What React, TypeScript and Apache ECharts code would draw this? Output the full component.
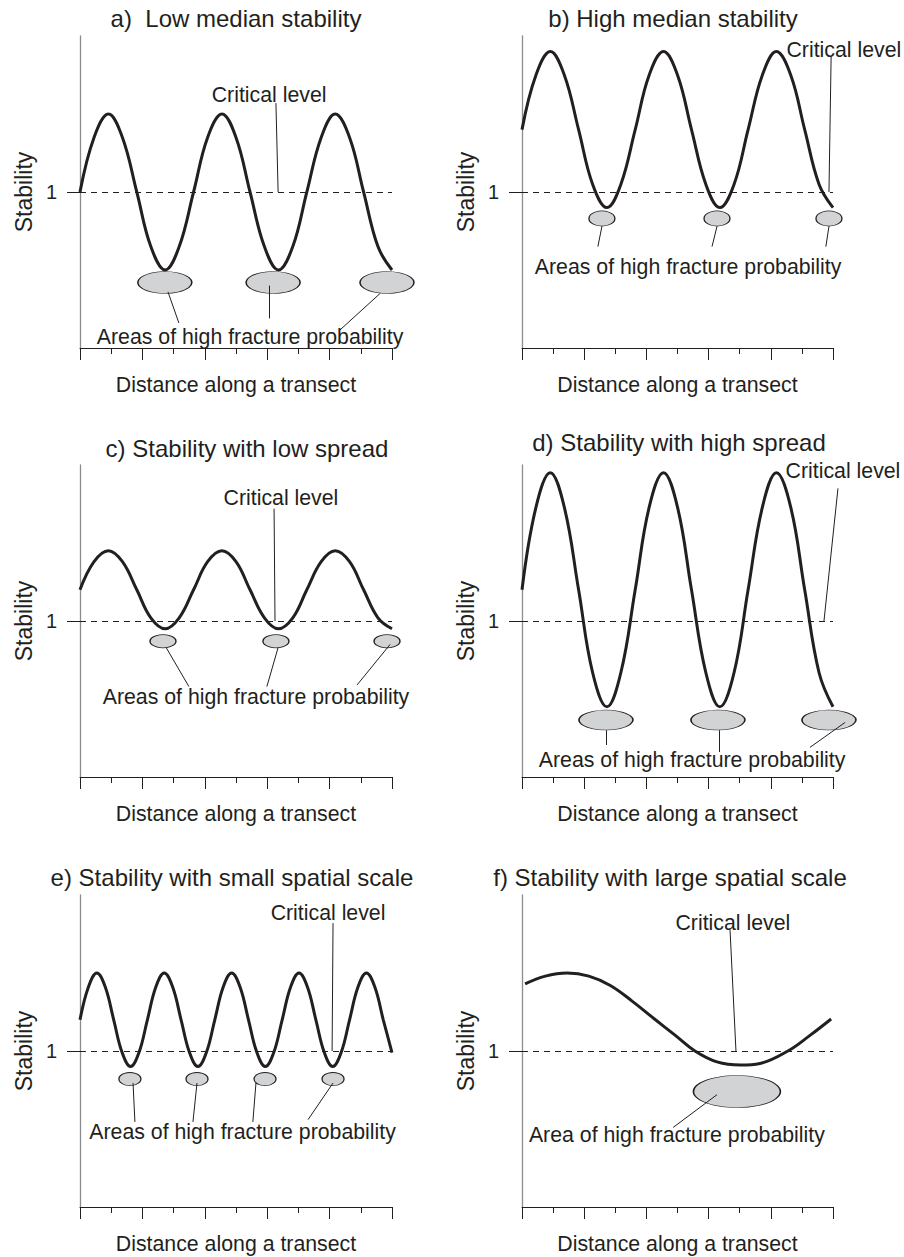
import React, { useEffect, useRef } from "react";
import * as echarts from "echarts";

const FONT = '"Liberation Sans", Arial, Helvetica, sans-serif';
const INK = "#231f20";
const FILL = "#d1d3d4";
const AXIS_GREY = "#8c8c8c";

// ---- texts ----
const panelTitles = [
  "a)  Low median stability",
  "b) High median stability",
  "c) Stability with low spread",
  "d) Stability with high spread",
  "e) Stability with small spatial scale",
  "f) Stability with large spatial scale",
];
const xAxisName = "Distance along a transect";
const yAxisName = "Stability";
const criticalLabel = "Critical level";
const areasLabel = "Areas of high fracture probability";
const areaLabel = "Area of high fracture probability";
const criticalValue = 1;
const yTickLabel = "1";

// ---- curves (distance 0..10, stability) ----
const transectX = [0, 0.45, 0.91, 1.36, 1.82, 2.27, 2.73, 3.18, 3.64, 4.09, 4.55, 5.0, 5.45, 5.91, 6.36, 6.82, 7.27, 7.73, 8.18, 8.64, 9.09, 9.55, 10.0];
const stabilityA = [1.0, 1.35, 1.5, 1.35, 1.0, 0.65, 0.5, 0.65, 1.0, 1.35, 1.5, 1.35, 1.0, 0.65, 0.5, 0.65, 1.0, 1.35, 1.5, 1.35, 1.0, 0.65, 0.5];
const stabilityB = [1.4, 1.75, 1.9, 1.75, 1.4, 1.05, 0.9, 1.05, 1.4, 1.75, 1.9, 1.75, 1.4, 1.05, 0.9, 1.05, 1.4, 1.75, 1.9, 1.75, 1.4, 1.05, 0.9];
const stabilityC = [1.2, 1.38, 1.45, 1.38, 1.2, 1.02, 0.95, 1.02, 1.2, 1.38, 1.45, 1.38, 1.2, 1.02, 0.95, 1.02, 1.2, 1.38, 1.45, 1.38, 1.2, 1.02, 0.95];
const stabilityD = [1.2, 1.73, 1.95, 1.73, 1.2, 0.67, 0.45, 0.67, 1.2, 1.73, 1.95, 1.73, 1.2, 0.67, 0.45, 0.67, 1.2, 1.73, 1.95, 1.73, 1.2, 0.67, 0.45];

const smallScaleX = [0, 0.27, 0.54, 0.81, 1.08, 1.35, 1.62, 1.89, 2.16, 2.43, 2.7, 2.97, 3.24, 3.51, 3.78, 4.05, 4.32, 4.59, 4.86, 5.13, 5.4, 5.67, 5.94, 6.21, 6.48, 6.75, 7.02, 7.29, 7.56, 7.83, 8.1, 8.37, 8.64, 8.91, 9.18, 9.45, 9.72, 10];
const stabilityE = [1.2, 1.41, 1.5, 1.41, 1.2, 0.99, 0.9, 0.99, 1.2, 1.41, 1.5, 1.41, 1.2, 0.99, 0.9, 0.99, 1.2, 1.41, 1.5, 1.41, 1.2, 0.99, 0.9, 0.99, 1.2, 1.41, 1.5, 1.41, 1.2, 0.99, 0.9, 0.99, 1.2, 1.41, 1.5, 1.41, 1.2, 0.99];

const largeScaleX = [0.1, 0.75, 1.45, 2.15, 2.84, 3.54, 4.23, 4.93, 5.56, 6.27, 7.03, 7.65, 8.55, 9.26, 9.94];
const stabilityF = [1.43, 1.48, 1.5, 1.48, 1.42, 1.32, 1.21, 1.1, 1.0, 0.93, 0.91, 0.92, 1.0, 1.1, 1.205];

// ---- areas of high fracture probability (centres) ----
const fractureA = [[2.72, 0.42], [6.19, 0.42], [9.84, 0.42]];
const fractureB = [[2.57, 0.83], [6.27, 0.83], [9.87, 0.83]];
const fractureC = [[2.66, 0.87], [6.28, 0.87], [9.84, 0.87]];
const fractureD = [[2.7, 0.365], [6.3, 0.365], [9.87, 0.365]];
const fractureE = [[1.6, 0.82], [3.75, 0.82], [5.93, 0.82], [8.11, 0.82]];
const fractureF = [[6.91, 0.74]];

// ---- layout / annotation placement (in axis units) ----
const panels = [
  {
    title: panelTitles[0], titlePos: [236, 18], left: 80, top: 36, width: 312,
    x: transectX, y: stabilityA, fracture: fractureA, ellipse: [54, 22],
    critText: [6.06, 1.62], critLeader: [[6.28, 1.57], [6.35, 1.0]],
    areaText: [5.45, 0.07], areaName: areasLabel,
    areaLeaders: [[[2.82, 0.36], [3.17, 0.16]], [[6.06, 0.4], [6.06, 0.19]], [[9.62, 0.35], [8.33, 0.115]]],
  },
  {
    title: panelTitles[1], titlePos: [673, 18], left: 522, top: 36, width: 311,
    x: transectX, y: stabilityB, fracture: fractureB, ellipse: [26, 15],
    critText: [10.35, 1.91], critLeader: [[9.94, 1.87], [9.87, 1.0]],
    areaText: [5.34, 0.52], areaName: areasLabel,
    areaLeaders: [[[2.57, 0.78], [2.44, 0.65]], [[6.27, 0.78], [6.11, 0.65]], [[9.87, 0.78], [9.77, 0.65]]],
  },
  {
    title: panelTitles[2], titlePos: [247, 448], left: 80, top: 465, width: 312,
    x: transectX, y: stabilityC, fracture: fractureC, ellipse: [26, 13],
    critText: [6.44, 1.79], critLeader: [[6.22, 1.72], [6.25, 1.0]],
    areaText: [5.64, 0.51], areaName: areasLabel,
    areaLeaders: [[[2.76, 0.83], [3.49, 0.58]], [[6.35, 0.83], [5.99, 0.58]], [[9.94, 0.85], [8.88, 0.59]]],
  },
  {
    title: panelTitles[3], titlePos: [679, 442], left: 522, top: 465, width: 311,
    x: transectX, y: stabilityD, fracture: fractureD, ellipse: [54, 20],
    critText: [10.32, 1.96], critLeader: [[10.16, 1.85], [9.71, 1.0]],
    areaText: [5.47, 0.11], areaName: areasLabel,
    areaLeaders: [[[2.7, 0.3], [2.7, 0.205]], [[6.33, 0.3], [6.33, 0.16]], [[10.39, 0.35], [9.26, 0.19]]],
  },
  {
    title: panelTitles[4], titlePos: [232, 877], left: 80, top: 895, width: 312,
    x: smallScaleX, y: stabilityE, fracture: fractureE, ellipse: [22, 13],
    critText: [7.95, 1.885], critLeader: [[8.11, 1.82], [8.08, 1.0]],
    areaText: [5.21, 0.48], areaName: areasLabel,
    areaLeaders: [[[1.7, 0.795], [1.76, 0.545]], [[3.75, 0.795], [3.62, 0.545]], [[5.64, 0.795], [5.54, 0.545]], [[8.11, 0.795], [7.31, 0.56]]],
  },
  {
    title: panelTitles[5], titlePos: [670, 877], left: 522, top: 895, width: 311,
    x: largeScaleX, y: stabilityF, fracture: fractureF, ellipse: [87, 32],
    critText: [6.78, 1.82], critLeader: [[6.69, 1.775], [6.88, 1.0]],
    areaText: [4.98, 0.46], areaName: areaLabel,
    areaLeaders: [[[6.27, 0.72], [4.86, 0.51]]],
  },
];

const textStyle = (size: number) => ({ fontFamily: FONT, fontSize: size, color: INK });

function buildOption() {
  const grid = panels.map((p) => ({ left: p.left, top: p.top, width: p.width, height: 312 }));
  const xAxis = panels.map((p, i) => ({
    type: "value",
    gridIndex: i,
    min: 0,
    max: 10,
    interval: 2,
    axisLine: { show: true, onZero: false, lineStyle: { color: INK, width: 1 } },
    axisTick: { show: true, length: 12, lineStyle: { color: INK, width: 1 } },
    minorTick: { show: true, splitNumber: 2, length: 6, lineStyle: { color: INK, width: 1 } },
    axisLabel: { show: false },
    splitLine: { show: false },
    minorSplitLine: { show: false },
    name: xAxisName,
    nameLocation: "middle",
    nameGap: 26,
    nameTextStyle: textStyle(21.3),
  }));
  const yAxis = panels.map((p, i) => ({
    type: "value",
    gridIndex: i,
    min: 0,
    max: 2,
    interval: 1,
    axisLine: { show: true, onZero: false, lineStyle: { color: AXIS_GREY, width: 1.3 } },
    axisTick: { show: true, customValues: [criticalValue], length: 13, lineStyle: { color: INK, width: 1 } },
    axisLabel: {
      show: true,
      customValues: [criticalValue],
      formatter: (v: number) => (v === criticalValue ? yTickLabel : ""),
      margin: 23,
      ...textStyle(20),
    },
    splitLine: { show: false },
    name: yAxisName,
    nameLocation: "middle",
    nameRotate: 90,
    nameGap: 45,
    nameTextStyle: textStyle(23),
  }));

  const series: any[] = [];
  panels.forEach((p, i) => {
    series.push({
      type: "line",
      xAxisIndex: i,
      yAxisIndex: i,
      data: p.x.map((x, k) => [x, p.y[k]]),
      smooth: 0.4,
      symbol: "none",
      lineStyle: { color: INK, width: 3 },
      z: 3,
      silent: true,
      markLine: {
        silent: true,
        symbol: ["none", "none"],
        label: { show: false },
        lineStyle: { type: [6, 5], color: INK, width: 1 },
        data: [{ yAxis: criticalValue }],
      },
    });
    series.push({
      type: "scatter",
      xAxisIndex: i,
      yAxisIndex: i,
      data: p.fracture,
      symbol: "circle",
      symbolSize: p.ellipse,
      clip: false,
      silent: true,
      itemStyle: { color: FILL, borderColor: INK, borderWidth: 1, opacity: 1 },
      z: 2,
    });
    series.push({
      type: "lines",
      coordinateSystem: "cartesian2d",
      xAxisIndex: i,
      yAxisIndex: i,
      clip: false,
      silent: true,
      lineStyle: { color: INK, width: 1, opacity: 1, curveness: 0 },
      data: [p.critLeader, ...p.areaLeaders].map((c) => ({ coords: c })),
      z: 4,
    });
    series.push({
      type: "scatter",
      xAxisIndex: i,
      yAxisIndex: i,
      symbol: "circle",
      symbolSize: 0,
      clip: false,
      silent: true,
      itemStyle: { color: INK, opacity: 1 },
      label: {
        show: true,
        position: [0, 0],
        align: "center",
        verticalAlign: "middle",
        fontFamily: FONT,
        fontSize: 21.3,
        color: INK,
        opacity: 1,
        textBorderWidth: 0,
      },
      data: [
        { value: p.critText, label: { formatter: criticalLabel } },
        { value: p.areaText, label: { formatter: p.areaName } },
      ],
      z: 5,
    });
  });

  const graphic = panels.map((p) => ({
    type: "text",
    x: p.titlePos[0],
    y: p.titlePos[1],
    style: {
      text: p.title,
      fontFamily: FONT,
      fontSize: 24,
      fill: INK,
      align: "center",
      verticalAlign: "middle",
      textAlign: "center",
      textVerticalAlign: "middle",
    },
  }));

  return {
    animation: false,
    backgroundColor: "#ffffff",
    grid,
    xAxis,
    yAxis,
    series,
    graphic,
  };
}

export default function App() {
  const ref = useRef<HTMLDivElement>(null);
  useEffect(() => {
    document.body.style.margin = "0";
    if (!ref.current) return;
    const chart = echarts.init(ref.current, null, { renderer: "svg" });
    chart.setOption(buildOption() as any);
    return () => chart.dispose();
  }, []);
  return <div ref={ref} style={{ width: 904, height: 1257 }} />;
}
